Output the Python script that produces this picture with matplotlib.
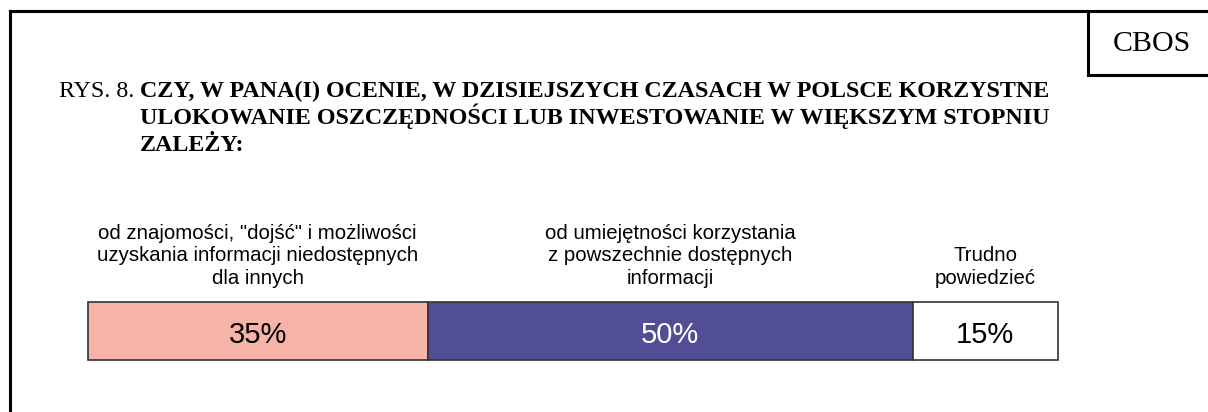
import matplotlib.pyplot as plt
from matplotlib.lines import Line2D
from matplotlib.transforms import blended_transform_factory

# ── dane ──────────────────────────────────────────────────────────────────────

categories = [
    'od znajomości, "dojść" i możliwości\nuzyskania informacji niedostępnych\ndla innych',
    "od umiejętności korzystania\nz powszechnie dostępnych\ninformacji",
    "Trudno\npowiedzieć",
]
values = [35, 50, 15]
colors = ["#F5B4A7", "#524E95", "#FFFFFF"]
text_colors = ["black", "white", "black"]

W, H = 1208, 412

fig = plt.figure(figsize=(W / 100, H / 100), dpi=100)
fig.patch.set_facecolor("white")

# ── ramka i pole CBOS ─────────────────────────────────────────────────────────

def px(x, y):
    return x / W, 1 - y / H

for (x0, y0), (x1, y1) in [
    ((10, 11), (W, 11)),
    ((10, 11), (10, H)),
    ((1088, 11), (1088, 75)),
    ((1088, 75), (W, 75)),
]:
    a, b = px(x0, y0)
    c, d = px(x1, y1)
    fig.add_artist(Line2D([a, c], [b, d], color="black", lw=2.2,
                          solid_capstyle="projecting"))

fig.text(*px(1152, 51), "CBOS", family="Liberation Serif", fontsize=21.5,
         ha="center", va="baseline")

# ── tytuł ─────────────────────────────────────────────────────────────────────

TITLE_FS = 17.3
t = fig.text(*px(59, 97), "RYS. 8. ", family="Liberation Serif",
             fontsize=TITLE_FS, ha="left", va="baseline")
fig.canvas.draw()
bb = t.get_window_extent()
fig.text(bb.x1 / W, 1 - 97 / H,
         "CZY, W PANA(I) OCENIE, W DZISIEJSZYCH CZASACH W POLSCE KORZYSTNE",
         family="Liberation Serif", fontsize=TITLE_FS, weight="bold",
         ha="left", va="baseline")
for y, line in [(124, "ULOKOWANIE OSZCZĘDNOŚCI LUB INWESTOWANIE W WIĘKSZYM STOPNIU"),
                (151, "ZALEŻY:")]:
    fig.text(*px(140, y), line, family="Liberation Serif", fontsize=TITLE_FS,
             weight="bold", ha="left", va="baseline")

# ── wykres słupkowy ───────────────────────────────────────────────────────────

bar_l, bar_r, bar_t, bar_b = 88, 1058, 302, 360
bar_h = bar_b - bar_t
ax = fig.add_axes([bar_l / W, 1 - bar_b / H, (bar_r - bar_l) / W, bar_h / H])
ax.set_xlim(0, sum(values))
ax.set_ylim(-0.5, 0.5)
ax.axis("off")

left = 0
trans = blended_transform_factory(ax.transData, ax.transAxes)
for cat, val, col, tc in zip(categories, values, colors, text_colors):
    ax.barh(0, val, left=left, height=1, color=col, edgecolor="#333333",
            linewidth=1.2, clip_on=False)
    mid = left + val / 2
    ax.text(mid, (bar_b - 343) / bar_h, f"{val}%", transform=trans,
            ha="center", va="baseline", fontsize=21, color=tc,
            family="Liberation Sans")
    ax.text(mid, 1 + (bar_t - 288) / bar_h, cat, transform=trans,
            ha="center", va="bottom", multialignment="center",
            fontsize=14.7, family="Liberation Sans", linespacing=1.24)
    left += val

fig.savefig("out.png", dpi=100, facecolor="white")
